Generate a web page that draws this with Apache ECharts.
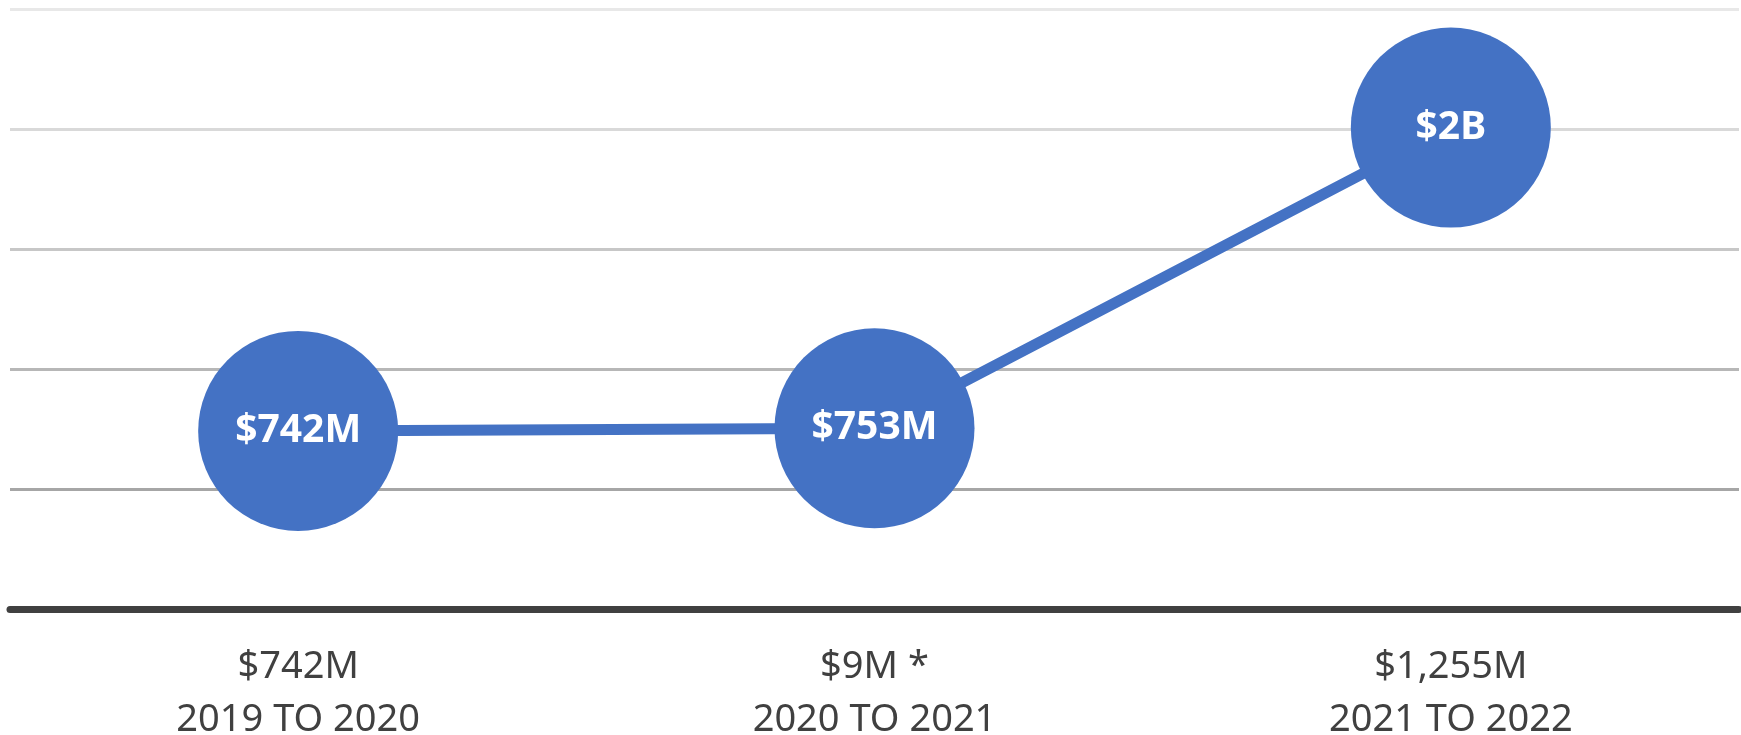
<!DOCTYPE html>
<html>
<head>
<meta charset="utf-8">
<title>Growth by period</title>
<script src="https://cdn.jsdelivr.net/npm/echarts@6/dist/echarts.min.js"></script>
<style>
  html, body { margin: 0; padding: 0; background: #fff; }
  #main { width: 1741px; height: 735px; }
</style>
</head>
<body>
<div id="main"></div>
<script>
// chart data
var periods = ['2019 TO 2020', '2020 TO 2021', '2021 TO 2022'];
var periodAmounts = ['$742M', '$9M *', '$1,255M'];
var totals = [742, 753, 2006];
var totalLabels = ['$742M', '$753M', '$2B'];

var categories = periods.map(function (p, i) {
  return periodAmounts[i] + '\n' + p;
});

var myChart = echarts.init(document.getElementById('main'));

var option = {
  animation: false,
  grid: {
    left: 10, right: 2, top: 9, bottom: 126,
    containLabel: false,
    outerBoundsMode: 'none'
  },
  xAxis: {
    type: 'category',
    data: categories,
    axisLine: { lineStyle: { color: '#404040', width: 7 } },
    axisTick: { show: false },
    axisLabel: {
      margin: 32,
      color: '#404040',
      fontFamily: 'Noto Sans',
      fontSize: 38,
      lineHeight: 53
    }
  },
  yAxis: {
    type: 'value',
    min: 0,
    max: 2500,
    interval: 500,
    axisLabel: { show: false },
    axisLine: { show: false },
    axisTick: { show: false },
    splitLine: {
      lineStyle: {
        width: 3,
        color: ['#a0a0a0', '#a6a6a6', '#b7b7b7', '#c7c7c7', '#d9d9d9', '#e8e8e8']
      }
    }
  },
  series: [
    {
      type: 'line',
      data: totals,
      symbol: 'circle',
      symbolSize: 200,
      itemStyle: { color: '#4472C4' },
      lineStyle: { color: '#4472C4', width: 11 },
      label: {
        show: true,
        position: 'inside',
        color: '#fff',
        fontFamily: 'Noto Sans',
        fontWeight: 'bold',
        fontSize: 39,
        formatter: function (p) { return totalLabels[p.dataIndex]; }
      }
    }
  ]
};

myChart.setOption(option);
</script>
</body>
</html>
